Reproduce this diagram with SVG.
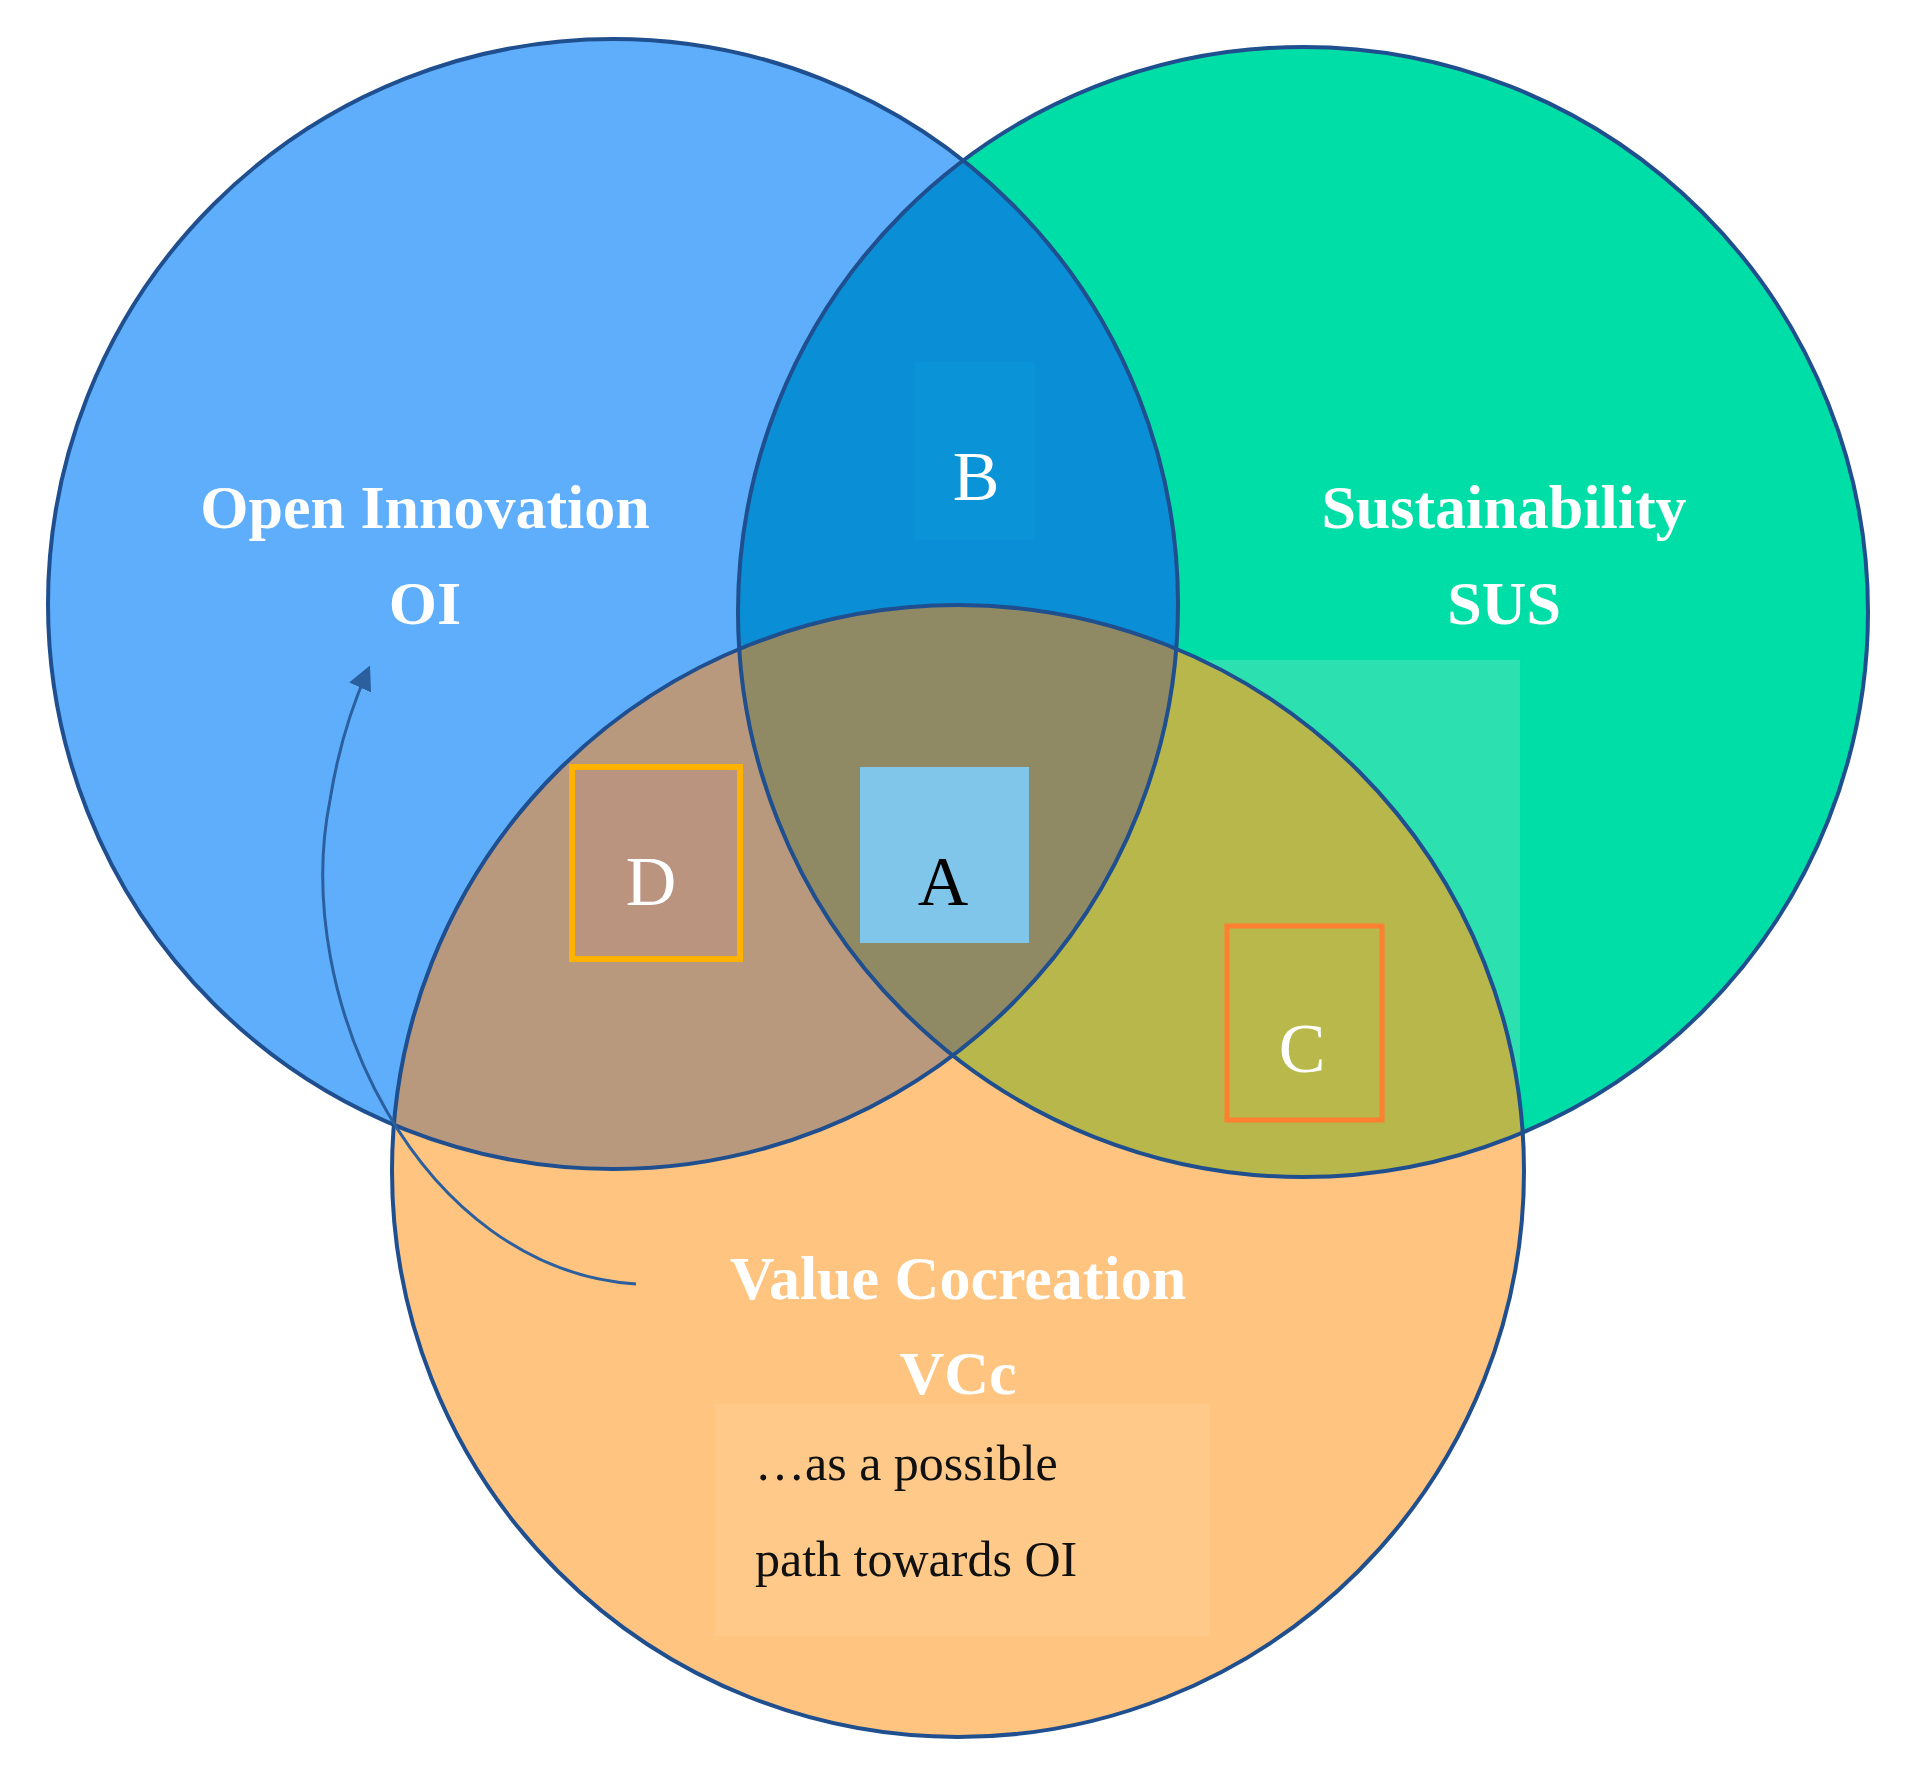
<svg xmlns="http://www.w3.org/2000/svg" width="1916" height="1781" viewBox="0 0 1916 1781">
<style>
.lbl{font-family:"Liberation Serif","DejaVu Serif",serif;font-weight:bold;fill:#fff;font-size:62px;text-anchor:middle}
.let{font-family:"Liberation Serif","DejaVu Serif",serif;font-size:70px;text-anchor:middle}
.body{font-family:"Liberation Serif","DejaVu Serif",serif;font-size:50px;fill:#111}
.ring{fill:none;stroke:#1f4f8e;stroke-width:4}
</style>
<defs>
<clipPath id="cL"><circle cx="613" cy="604" r="565"/></clipPath>
<clipPath id="cR"><circle cx="1303" cy="612" r="565"/></clipPath>
<clipPath id="cB"><circle cx="958" cy="1171" r="566"/></clipPath>
<marker id="ah" viewBox="0 0 10 10" refX="8" refY="5" markerWidth="8" markerHeight="8" orient="auto"><path d="M0,0 L10,5 L0,10 Z" fill="#2b5f9e"/></marker>
</defs>
<rect width="1916" height="1781" fill="#fff"/>
<g id="circles">
<circle cx="613" cy="604" r="565" fill="#5eaefb"/>
<circle cx="1303" cy="612" r="565" fill="#00dea8"/>
<rect x="1175" y="660" width="345" height="450" fill="#2de0b0" clip-path="url(#cR)"/>
<circle cx="958" cy="1171" r="566" fill="#ffc47f"/>
<g clip-path="url(#cL)"><circle cx="1303" cy="612" r="565" fill="#0a8fd6"/><circle cx="958" cy="1171" r="566" fill="#b8997e"/></g>
<g clip-path="url(#cR)"><circle cx="958" cy="1171" r="566" fill="#b7b74b"/></g>
<g clip-path="url(#cL)"><g clip-path="url(#cR)"><circle cx="958" cy="1171" r="566" fill="#8f8a63"/></g></g>
<circle class="ring" cx="613" cy="604" r="565"/>
<circle class="ring" cx="1303" cy="612" r="565"/>
<circle class="ring" cx="958" cy="1171" r="566"/>
</g>
<g id="nodeB"><rect x="915" y="362" width="120" height="178" fill="#0a93d6"/><text class="let" x="976" y="500" fill="#fff">B</text></g>
<g id="nodeA"><rect x="860" y="767" width="169" height="176" fill="#80c5ea"/><text class="let" x="943" y="905" fill="#000">A</text></g>
<g id="nodeD"><rect x="572" y="767" width="168" height="192" fill="#bb9480" stroke="#ffb300" stroke-width="6"/><text class="let" x="651" y="905" fill="#fff">D</text></g>
<g id="nodeC"><rect x="1227" y="926" width="155" height="194" fill="#b9b84a" stroke="#ff8030" stroke-width="5"/><text class="let" x="1302" y="1072" fill="#fff">C</text></g>
<g id="labels">
<text class="lbl" x="425" y="528">Open Innovation</text>
<text class="lbl" x="425" y="624">OI</text>
<text class="lbl" x="1504" y="528">Sustainability</text>
<text class="lbl" x="1504" y="624">SUS</text>
<text class="lbl" x="958" y="1299">Value Cocreation</text>
<text class="lbl" x="958" y="1394">VCc</text>
</g>
<g id="note"><rect x="715" y="1404" width="495" height="232" fill="#ffcd90" opacity="0.6"/>
<text class="body" x="755" y="1480">…as a possible</text>
<text class="body" x="755" y="1576">path towards OI</text></g>
<g id="connectors"><path d="M636,1284 C420,1270 290,1000 330,800 C338,750 350,710 368,670" fill="none" stroke="#2b5f9e" stroke-width="3" marker-end="url(#ah)"/></g>
</svg>
